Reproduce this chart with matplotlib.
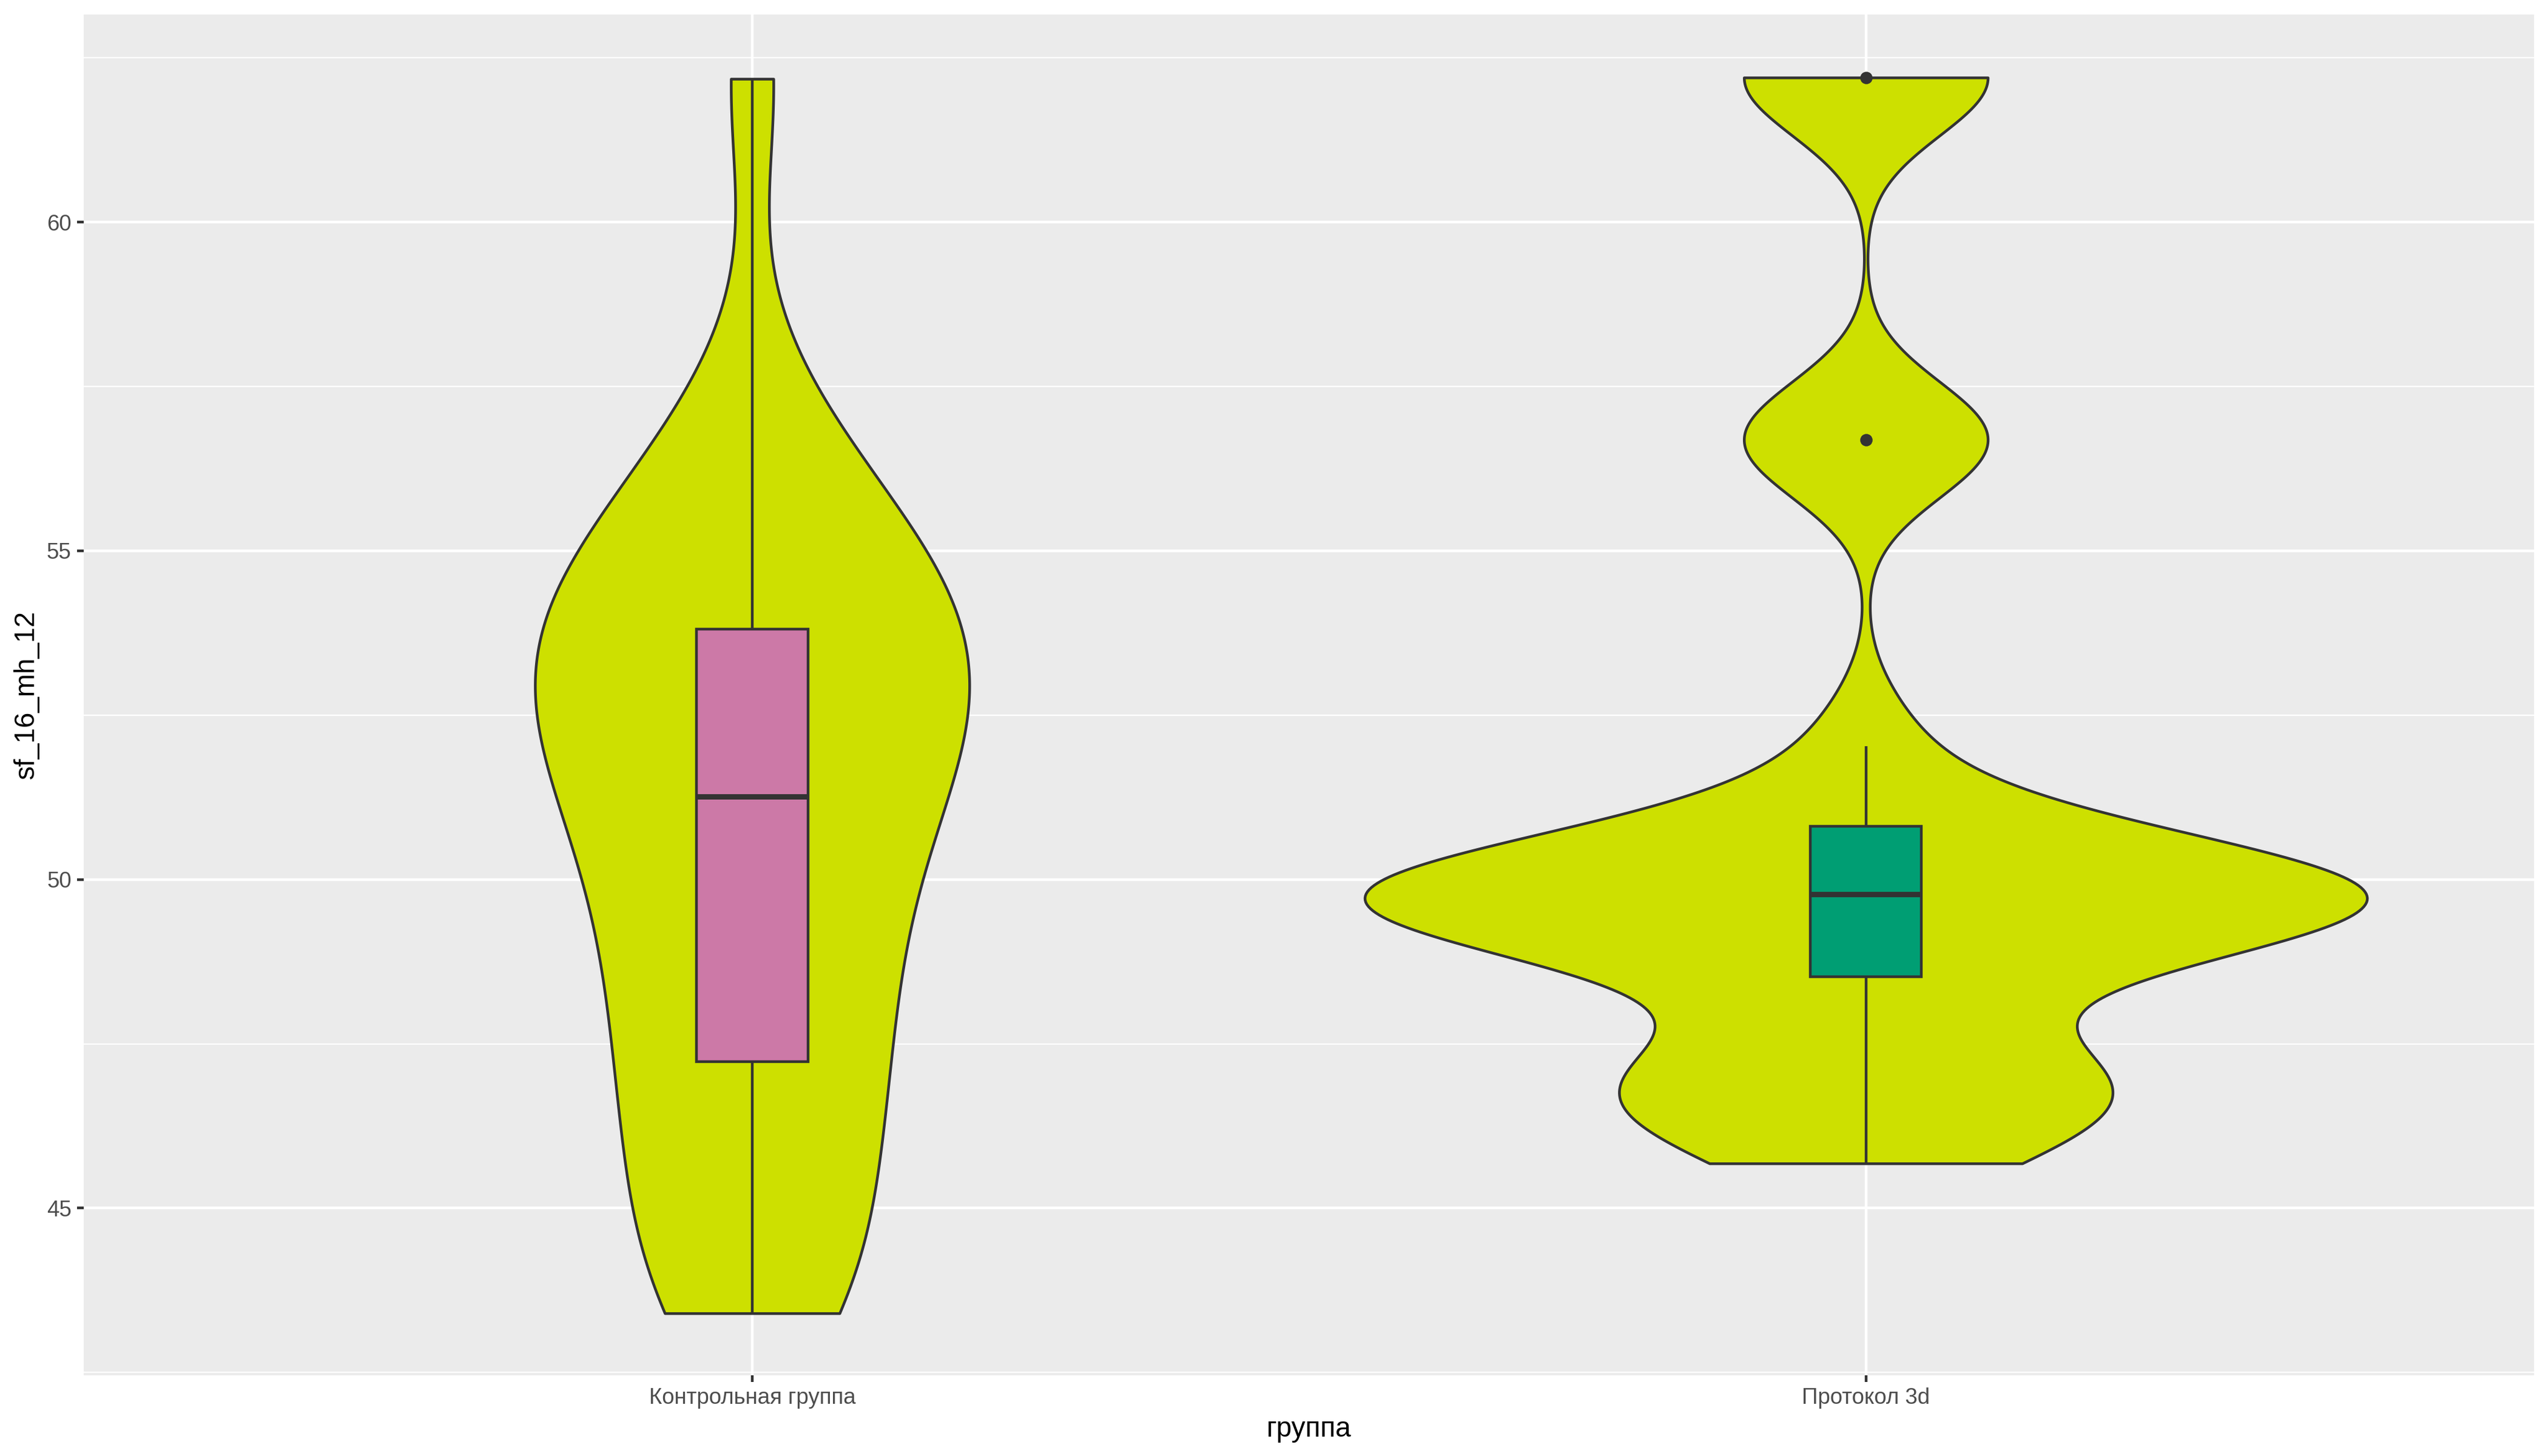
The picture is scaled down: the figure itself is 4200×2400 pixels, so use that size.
import matplotlib
matplotlib.use("Agg")
import matplotlib.pyplot as plt
import numpy as np
from matplotlib.ticker import FixedLocator

plt.rcParams["font.family"] = ["Liberation Sans", "DejaVu Sans"]

# x categories
GROUPS = ["Контрольная группа", "Протокол 3d"]

# sf_16_mh_12 values per group (estimated from the violin outlines)
CONTROL_VALUES = [43.40, 43.40, 44.25, 45.10, 45.85, 46.50, 47.12, 47.73, 48.37, 49.00,
                  49.61, 50.18, 50.71, 51.20, 51.66, 52.07, 52.44, 52.79, 53.13, 53.47,
                  53.83, 54.18, 54.56, 54.96, 55.41, 56.12, 57.20, 62.18]
PROTOCOL_VALUES = [45.68, 46.15, 46.45, 46.72, 46.95, 47.12, 47.30, 48.80, 49.10, 49.27,
                   49.40, 49.50, 49.59, 49.68, 49.76, 49.85, 49.94, 50.04, 50.17, 50.34,
                   50.65, 52.02, 56.69, 56.69, 56.69, 62.20, 62.20, 62.20]

# box summaries: q1, median, q3, lower whisker, upper whisker
CONTROL_BOX = [47.23, 51.26, 53.81, 43.40, 62.18]
PROTOCOL_BOX = [48.52, 49.78, 50.81, 45.68, 52.03]
CONTROL_OUTLIERS = []
PROTOCOL_OUTLIERS = [56.69, 62.20]

Y_TICKS = [45, 50, 55, 60]
Y_MINOR = [42.5, 47.5, 52.5, 57.5, 62.5]

VIOLIN_FILL = "#CDE000"
BOX_FILLS = ["#CC79A7", "#009E73"]
LINE = "#333333"


def draw_violins(ax):
    """Violins with their own kernel bandwidth, trimmed to the data range."""
    groups = [CONTROL_VALUES, PROTOCOL_VALUES]
    bandwidths = [1.7, 0.88]
    widths = [0.39, 0.9]
    for pos, values, bw, width in zip([1, 2], groups, bandwidths, widths):
        parts = ax.violinplot(values, positions=[pos], widths=width, showextrema=False,
                              points=512, bw_method=bw / np.std(values, ddof=1))
        for body in parts["bodies"]:
            body.set_facecolor(VIOLIN_FILL)
            body.set_edgecolor(LINE)
            body.set_linewidth(1.07)
            body.set_alpha(1)
            body.set_zorder(2)


def draw_boxes(ax):
    """Narrow boxplots on top of the violins."""
    stats = []
    for label, box, fliers in zip(GROUPS, [CONTROL_BOX, PROTOCOL_BOX],
                                  [CONTROL_OUTLIERS, PROTOCOL_OUTLIERS]):
        q1, med, q3, lo, hi = box
        stats.append(dict(label=label, q1=q1, med=med, q3=q3,
                          whislo=lo, whishi=hi, fliers=fliers))
    art = ax.bxp(stats, positions=[1, 2], widths=0.1, patch_artist=True,
                 showcaps=False, manage_ticks=False,
                 boxprops=dict(edgecolor=LINE, linewidth=1.07, zorder=3),
                 whiskerprops=dict(color=LINE, linewidth=1.07, zorder=3,
                                   solid_capstyle="butt"),
                 medianprops=dict(color=LINE, linewidth=2.13, zorder=4,
                                  solid_capstyle="butt"),
                 flierprops=dict(marker="o", markerfacecolor=LINE, markeredgecolor=LINE,
                                 markersize=4.4, markeredgewidth=0.5, zorder=5))
    for patch, colour in zip(art["boxes"], BOX_FILLS):
        patch.set_facecolor(colour)


def style_axes(ax):
    ax.set_facecolor("#EBEBEB")
    ax.set_xlim(0.4, 2.6)
    ax.set_ylim(42.46, 63.16)
    ax.set_xticks([1, 2], GROUPS)
    ax.set_yticks(Y_TICKS)
    ax.yaxis.set_minor_locator(FixedLocator(Y_MINOR))
    ax.tick_params(which="minor", length=0)
    ax.tick_params(which="major", length=2.75, width=1.07, color=LINE,
                   labelcolor="#4D4D4D", labelsize=8.8, pad=2.2)
    ax.grid(which="major", color="white", linewidth=1.07)
    ax.grid(which="minor", axis="y", color="white", linewidth=0.53)
    ax.set_axisbelow(True)
    for spine in ax.spines.values():
        spine.set_visible(False)
    ax.set_xlabel("группа", fontsize=11, color="black", labelpad=2.75)
    ax.set_ylabel("sf_16_mh_12", fontsize=11, color="black", labelpad=2.75)


if __name__ == "__main__":
    fig = plt.figure(figsize=(14, 8), dpi=300)
    ax = fig.add_axes([0.03295, 0.05558, 0.96160, 0.93450])
    draw_violins(ax)
    draw_boxes(ax)
    style_axes(ax)
    fig.savefig("out.png", dpi=300)
